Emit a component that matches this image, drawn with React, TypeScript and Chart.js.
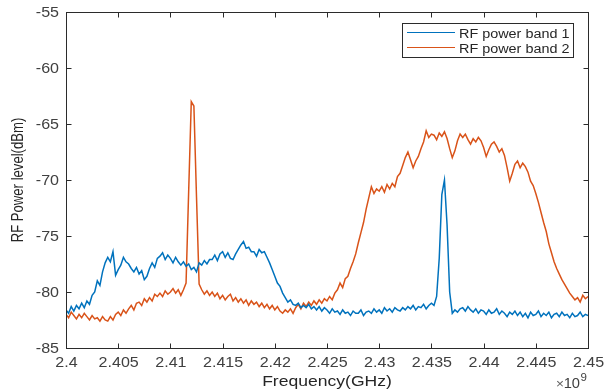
import React, { useEffect, useRef } from "react";
import { Chart, registerables } from "chart.js";

Chart.register(...registerables);

// Sampling grid of the measured spectra (GHz)
const FREQ_START_GHZ = 2.4;
const FREQ_STEP_GHZ = 0.00025;

// RF power band 1 (dBm), one value per grid step from 2.400 to 2.450 GHz
const band1Power = [
  -81.6, -81.9, -81.3, -81.7, -81.2, -81.5, -81.0, -81.4,
  -80.8, -81.1, -80.3, -80.0, -79.0, -79.4, -78.2, -77.4,
  -76.9, -77.3, -76.4, -78.5, -78.0, -77.6, -76.9, -77.3,
  -77.5, -77.9, -78.2, -77.8, -78.4, -78.1, -78.9, -78.6,
  -77.9, -77.4, -77.8, -77.0, -76.8, -76.5, -77.1, -76.7,
  -77.0, -77.4, -76.9, -77.3, -77.6, -77.3, -77.7, -77.5,
  -78.0, -77.8, -78.2, -77.4, -77.6, -77.2, -77.5, -77.1,
  -77.1, -76.7, -77.2, -76.6, -76.4, -76.9, -76.5, -77.0,
  -77.1, -76.6, -76.2, -75.8, -75.5, -76.1, -76.0, -76.4,
  -76.4, -76.8, -76.2, -76.5, -76.4, -76.9, -77.4, -78.0,
  -78.6, -79.2, -79.5, -80.1, -80.5, -80.9, -80.7, -81.1,
  -81.2, -81.0, -81.4, -81.2, -81.4, -81.1, -81.5, -81.3,
  -81.6, -81.3, -81.7, -81.4, -81.6, -81.9, -81.5, -81.8,
  -81.7, -82.0, -81.6, -81.9, -81.8, -82.1, -81.7, -81.9,
  -81.9, -81.6, -82.1, -81.8, -81.7, -81.9, -81.5, -81.8,
  -81.6, -81.9, -81.4, -81.7, -81.5, -81.8, -81.4, -81.6,
  -81.7, -81.4, -81.6, -81.3, -81.5, -81.2, -81.6, -81.3,
  -81.4, -81.1, -81.5, -81.2, -81.0, -81.2, -80.4, -77.0,
  -71.3, -70.0, -74.0, -80.0, -81.9, -81.6, -81.8, -81.5,
  -81.4, -81.7, -81.3, -81.6, -81.8, -81.5, -81.9, -81.6,
  -81.7, -82.0, -81.6, -81.9, -81.8, -81.5, -82.0, -81.7,
  -81.9, -82.2, -81.8, -82.0, -81.7, -82.1, -81.8, -82.2,
  -81.9, -82.3, -81.8, -82.1, -82.0, -81.7, -82.2, -81.9,
  -82.1, -81.8, -82.3, -82.0, -81.9, -82.2, -81.8, -82.1,
  -82.0, -82.3, -81.9, -82.2, -82.1, -81.8, -82.2, -82.0,
  -82.1,
];

// RF power band 2 (dBm), same grid
const band2Power = [
  -82.0, -82.3, -81.8, -82.1, -82.4, -82.0, -82.3, -81.9,
  -82.2, -82.5, -82.1, -82.4, -82.3, -82.6, -82.2, -82.5,
  -82.6, -82.2, -82.5, -82.0, -81.8, -82.1, -81.6, -81.9,
  -81.5, -81.2, -81.6, -81.0, -80.9, -81.2, -80.6, -80.9,
  -80.5, -80.8, -80.2, -80.4, -80.1, -80.4, -79.9, -80.2,
  -80.0, -79.7, -80.1, -79.8, -80.3, -79.8, -79.2, -71.0,
  -63.0, -63.4, -71.5, -79.3, -79.8, -80.2, -79.9, -80.3,
  -80.0, -80.4, -80.1, -80.6, -80.3, -80.7, -80.4, -80.2,
  -80.8, -80.5, -80.9, -80.6, -81.0, -80.7, -81.2, -80.8,
  -81.1, -80.9, -81.3, -81.0, -81.4, -81.1, -81.5, -81.2,
  -81.6, -81.3, -81.7, -81.9, -81.6, -81.8, -81.5, -81.9,
  -81.4, -81.1, -81.5, -81.0, -81.3, -80.9, -81.2, -80.8,
  -81.1, -80.7, -81.0, -80.6, -80.8, -80.4, -80.7, -80.1,
  -79.8, -79.2, -79.6, -78.8, -78.6, -77.9, -77.3, -76.6,
  -75.6, -74.7, -73.8, -72.6, -71.6, -70.6, -71.2, -70.8,
  -71.0, -70.6, -71.1, -70.4, -70.8, -70.3, -70.6, -69.7,
  -69.4, -68.7, -68.0, -67.5, -68.2, -68.9, -68.3, -67.9,
  -67.2, -66.6, -65.6, -66.2, -65.9, -66.0, -66.4, -65.8,
  -66.1, -65.7, -66.3, -67.2, -68.0, -67.4, -66.5, -65.9,
  -66.2, -65.9, -66.4, -66.8, -66.3, -66.6, -66.2, -66.5,
  -67.1, -67.9, -67.3, -66.8, -66.6, -67.0, -67.5, -67.2,
  -67.8, -68.9, -70.1, -69.4, -68.6, -68.3, -68.9, -68.5,
  -68.8, -69.3, -70.1, -70.5, -71.2, -72.0, -72.9, -73.8,
  -74.6, -75.7, -76.5, -77.3, -77.9, -78.4, -78.9, -79.3,
  -79.7, -80.1, -80.4, -80.7, -80.5, -80.9, -80.3, -80.6,
  -80.4,
];

const seriesNames = ["RF power band 1", "RF power band 2"];
const seriesColors = ["#0072BD", "#D95319"];

const xTickValues = [2.4, 2.405, 2.41, 2.415, 2.42, 2.425, 2.43, 2.435, 2.44, 2.445, 2.45];
const xTickLabels = ["2.4", "2.405", "2.41", "2.415", "2.42", "2.425", "2.43", "2.435", "2.44", "2.445", "2.45"];
const yTickValues = [-85, -80, -75, -70, -65, -60, -55];
const yTickLabels = ["-85", "-80", "-75", "-70", "-65", "-60", "-55"];

const xAxisTitle = "Frequency(GHz)";
const yAxisTitle = "RF Power level(dBm)";
const xExponentTimes = "×";
const xExponentBase = "10";
const xExponent = "9";

const FONT = '"Liberation Sans", Arial, Helvetica, sans-serif';

function drawText(
  ctx: CanvasRenderingContext2D,
  text: string,
  x: number,
  y: number,
  size: number,
  sx: number,
  align: CanvasTextAlign,
  baseline: CanvasTextBaseline,
  color: string
) {
  ctx.save();
  ctx.translate(x, y);
  ctx.scale(sx, 1);
  ctx.font = `${size}px ${FONT}`;
  ctx.fillStyle = color;
  ctx.textAlign = align;
  ctx.textBaseline = baseline;
  ctx.fillText(text, 0, 0);
  ctx.restore();
}

const matlabAxesPlugin = {
  id: "matlabAxes",
  beforeDraw(chart: any) {
    const { ctx, width, height } = chart;
    ctx.save();
    ctx.fillStyle = "#ffffff";
    ctx.fillRect(0, 0, width, height);
    ctx.restore();
  },
  afterDatasetsDraw(chart: any) {
    const { ctx, chartArea: a, scales } = chart;
    const xs = scales.x;
    const ys = scales.y;
    const L = Math.round(a.left) + 0.5;
    const R = Math.round(a.right) + 0.5;
    const T = Math.round(a.top) + 0.5;
    const B = Math.round(a.bottom) + 0.5;
    const tick = 5;

    ctx.save();
    ctx.strokeStyle = "#2b2b2b";
    ctx.lineWidth = 1;
    ctx.strokeRect(L, T, R - L, B - T);
    ctx.beginPath();
    xTickValues.forEach((v) => {
      const px = Math.round(xs.getPixelForValue(v)) + 0.5;
      ctx.moveTo(px, B);
      ctx.lineTo(px, B - tick);
      ctx.moveTo(px, T);
      ctx.lineTo(px, T + tick);
    });
    yTickValues.forEach((v) => {
      const py = Math.round(ys.getPixelForValue(v)) + 0.5;
      ctx.moveTo(L, py);
      ctx.lineTo(L + tick, py);
      ctx.moveTo(R, py);
      ctx.lineTo(R - tick, py);
    });
    ctx.stroke();
    ctx.restore();

    // tick labels
    xTickValues.forEach((v, i) => {
      const px = xs.getPixelForValue(v);
      drawText(ctx, xTickLabels[i], px + 0.5, a.bottom + 15, 15, 1.07, "center", "middle", "#404040");
    });
    yTickValues.forEach((v, i) => {
      const py = ys.getPixelForValue(v);
      drawText(ctx, yTickLabels[i], a.left - 7, py + 0.5, 15, 1.07, "right", "middle", "#404040");
    });

    // axis titles
    drawText(ctx, xAxisTitle, (a.left + a.right) / 2, 386, 15, 1.17, "center", "alphabetic", "#262626");
    ctx.save();
    ctx.translate(19, (a.top + a.bottom) / 2);
    ctx.rotate(-Math.PI / 2);
    ctx.scale(0.82, 1);
    ctx.font = `16px ${FONT}`;
    ctx.fillStyle = "#262626";
    ctx.textAlign = "center";
    ctx.textBaseline = "middle";
    ctx.fillText(yAxisTitle, 0, 0);
    ctx.restore();

    // exponent
    drawText(ctx, xExponentTimes, 564, 388, 13, 1.05, "right", "alphabetic", "#606060");
    drawText(ctx, xExponentBase, 580, 388, 14, 1.05, "right", "alphabetic", "#404040");
    drawText(ctx, xExponent, 580.5, 381, 11, 1.05, "left", "alphabetic", "#404040");

    // legend
    const lx0 = 402, ly0 = 23, lx1 = 573, ly1 = 57;
    ctx.save();
    ctx.fillStyle = "#ffffff";
    ctx.fillRect(lx0, ly0, lx1 - lx0, ly1 - ly0);
    ctx.strokeStyle = "#2b2b2b";
    ctx.lineWidth = 1;
    ctx.strokeRect(lx0 + 0.5, ly0 + 0.5, lx1 - lx0, ly1 - ly0);
    const rows = [32.5, 47.5];
    seriesNames.forEach((name, i) => {
      ctx.strokeStyle = seriesColors[i];
      ctx.lineWidth = 1;
      ctx.beginPath();
      ctx.moveTo(407, rows[i]);
      ctx.lineTo(455, rows[i]);
      ctx.stroke();
      drawText(ctx, name, 459, rows[i] + 2.5, 12, 1.2, "left", "middle", "#262626");
    });
    ctx.restore();
  },
};

export default function App() {
  const canvasRef = useRef<HTMLCanvasElement | null>(null);

  useEffect(() => {
    if (!canvasRef.current) return;
    const toPoints = (arr: number[]) =>
      arr.map((p, i) => ({ x: FREQ_START_GHZ + i * FREQ_STEP_GHZ, y: p }));

    const chart = new Chart(canvasRef.current, {
      type: "line",
      data: {
        datasets: [
          {
            label: seriesNames[0],
            data: toPoints(band1Power),
            borderColor: seriesColors[0],
            borderWidth: 1.5,
            pointRadius: 0,
            tension: 0,
            fill: false,
          },
          {
            label: seriesNames[1],
            data: toPoints(band2Power),
            borderColor: seriesColors[1],
            borderWidth: 1.5,
            pointRadius: 0,
            tension: 0,
            fill: false,
          },
        ],
      },
      options: {
        animation: false,
        responsive: false,
        devicePixelRatio: 1,
        parsing: false,
        layout: { padding: { left: 66, top: 12, right: 19, bottom: 43 } },
        plugins: {
          legend: { display: false },
          tooltip: { enabled: false },
        },
        scales: {
          x: { type: "linear", min: 2.4, max: 2.45, display: false },
          y: { type: "linear", min: -85, max: -55, display: false },
        },
      },
      plugins: [matlabAxesPlugin],
    });
    return () => chart.destroy();
  }, []);

  return (
    <div style={{ position: "absolute", left: 0, top: 0, width: 607, height: 391, background: "#fff" }}>
      <canvas ref={canvasRef} width={607} height={391} style={{ display: "block" }} />
    </div>
  );
}
